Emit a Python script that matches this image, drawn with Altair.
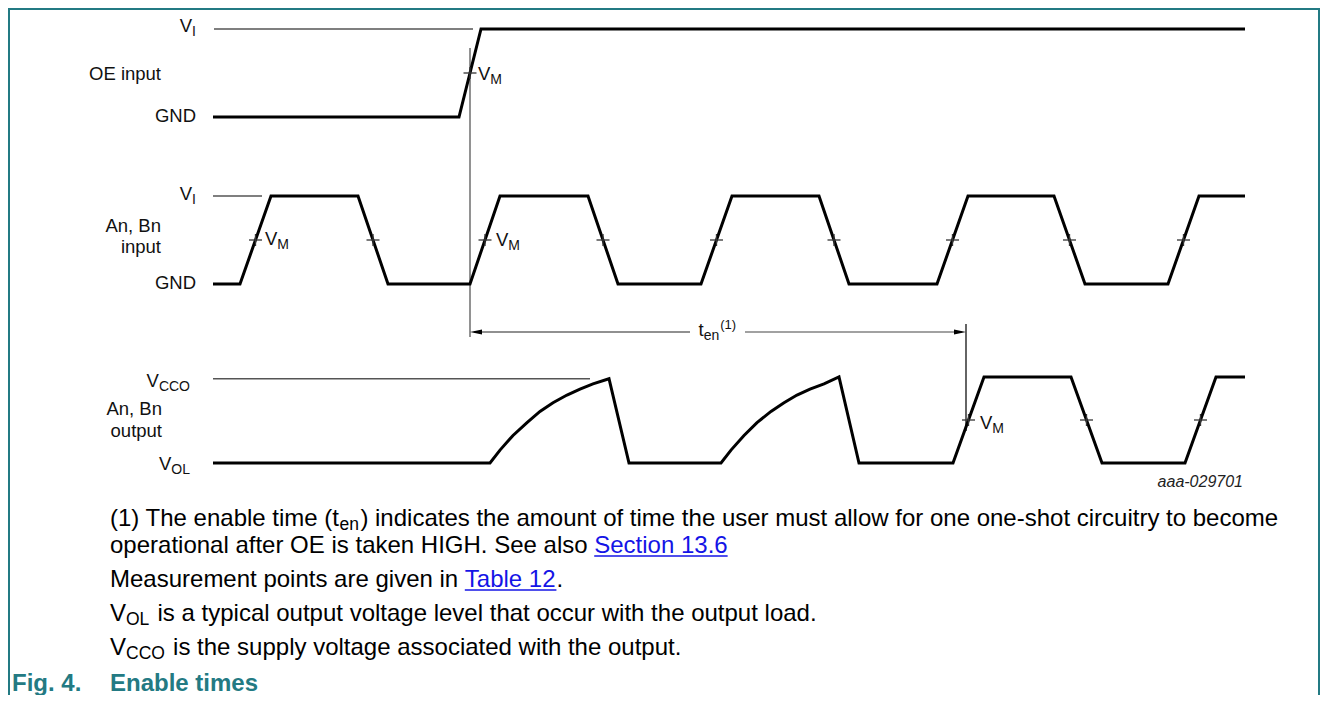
import altair as alt
import pandas as pd

# ---------------- data (figure units: time to the right, level rows downward) -------------
row_names = ["oe", "inp", "out"]
row_low = [117, 284, 463]    # y of LOW level (GND / V_OL)
row_high = [29, 196, 377]    # y of HIGH level (V_I / V_CCO)

oe_t = [213, 459, 481, 1245]
oe_lv = [0, 0, 1, 1]

in_t = [213, 240, 271, 358, 388, 470, 500, 588, 618, 701, 732, 819, 849,
        937, 968, 1054, 1085, 1168, 1199, 1245]
in_lv = [0, 0, 1, 1, 0, 0, 1, 1, 0, 0, 1, 1, 0, 0, 1, 1, 0, 0, 1, 1]

out_t = [213, 490, 500, 513, 527, 540, 553, 567, 580, 593, 609,
         629, 721, 731, 744, 757, 771, 784, 797, 810, 824, 839,
         859, 953, 984, 1071, 1102, 1185, 1216, 1245]
out_lv = [0, 0, 0.15, 0.32, 0.47, 0.60, 0.70, 0.79, 0.86, 0.92, 0.98,
          0, 0, 0.15, 0.32, 0.47, 0.60, 0.70, 0.79, 0.86, 0.92, 1.0,
          0, 0, 1, 1, 0, 0, 1, 1]

# threshold reference lines
ref_row = ["oe", "inp", "out"]
ref_t0 = [214, 213, 213]
ref_t1 = [473, 262, 590]
ref_lv = [1, 1, 0.98]

# output edges that carry a V_M mark start at this time
out_vm_from = 950

# t_en measurement
ten_start = 470
ten_end = 966
ten_arrow_y = 332
ten_gap = [690, 745]
ten_start_span = [48, 337]
ten_end_span = [324, 431]

# left-hand level labels
lvl_main = ["V", "GND", "V", "GND", "V", "V"]
lvl_sub = ["I", "", "I", "", "CCO", "OL"]
lvl_right = [196, 196, 196, 196, 190, 190]
lvl_base = [32, 122, 200, 289, 387, 470]

# signal names
sig_text = ["OE input", "An, Bn", "input", "An, Bn", "output"]
sig_right = [161, 161, 161, 162, 162]
sig_base = [80, 232, 253, 415, 437]

# V_M labels
vm_x = [478, 265, 496, 980]
vm_base = [80, 245, 246, 429]

# notes
note_lines = [
    [("(1) The enable time (t", "n"), ("en", "ns"),
     (") indicates the amount of time the user must allow for one one-shot circuitry to become", "n")],
    [("operational after OE is taken HIGH. See also ", "n"), ("Section 13.6", "lk")],
    [("Measurement points are given in ", "n"), ("Table 12", "lk"), (".", "n")],
    [("V", "n"), ("OL", "ns"), (" is a typical output voltage level that occur with the output load.", "n")],
    [("V", "n"), ("CCO", "ns"), (" is the supply voltage associated with the output.", "n")],
]
note_base = [526, 553, 587, 621, 655]
caption = [("Fig. 4.", 12), ("Enable times", 110)]
caption_base = 691
code_text = "aaa-029701"

# ---------------- helpers ----------------
FONT = "Liberation Sans"
TEAL = "#237a83"
BLUE = "#1414e6"

W = dict(zip(" !(),-.0123456789", [278, 278, 333, 333, 278, 333, 278] + [556] * 10))
W.update(zip("ABCDEFGHIJKLMNOPQRSTUVWXYZ",
             [667, 667, 722, 722, 667, 611, 778, 722, 278, 500, 667, 556, 833, 722, 778, 667,
              778, 722, 667, 611, 722, 667, 944, 667, 667, 611]))
W.update(zip("abcdefghijklmnopqrstuvwxyz",
             [556, 556, 500, 556, 556, 278, 556, 556, 222, 222, 500, 222, 833, 556, 556, 556,
              556, 333, 500, 278, 556, 500, 722, 500, 500, 500]))
KERN = {"Ta": -74, "Te": -74, "To": -74, "Tr": -37}


def tw(s, fs):
    u = sum(W.get(c, 556) for c in s)
    u += sum(KERN.get(s[i:i + 2], 0) for i in range(len(s) - 1))
    return u * fs / 1000.0


STY = {
    "d": dict(fs=18.5, dy=0, col="#111111"),
    "ds": dict(fs=14, dy=4, col="#111111", pad=1.0),
    "dsup": dict(fs=13, dy=-7, col="#111111"),
    "n": dict(fs=24, dy=0, col="#000000"),
    "ns": dict(fs=17.5, dy=4, col="#000000", pad=1.5),
    "lk": dict(fs=24, dy=0, col=BLUE, ul=True),
}

text_rows, ul_rows = [], []


def rich(pieces, x0, base, right=False):
    widths = [tw(t, STY[s]["fs"]) + STY[s].get("pad", 0) for t, s in pieces]
    if right:
        x0 -= sum(widths) - STY[pieces[-1][1]].get("pad", 0)
    x = x0
    for (t, s), w in zip(pieces, widths):
        st = STY[s]
        lead = len(t) - len(t.lstrip(" "))
        xs_ = x + tw(" " * lead, st["fs"])
        if t.strip(" "):
            text_rows.append(dict(x=xs_, y=base + st["dy"], text=t.strip(" "), fs=st["fs"], col=st["col"]))
        if st.get("ul"):
            ul_rows.append(dict(x=xs_, x2=xs_ + tw(t.strip(" "), st["fs"]), y=base + 3))
        x += w


rows = {n: (lo, hi) for n, lo, hi in zip(row_names, row_low, row_high)}


def yof(r, lv):
    lo, hi = rows[r]
    return lo + lv * (hi - lo)


# waveforms
wave = []
for name, ts, lvs in [("oe", oe_t, oe_lv), ("inp", in_t, in_lv), ("out", out_t, out_lv)]:
    for i, (t, lv) in enumerate(zip(ts, lvs)):
        wave.append(dict(sig=name, t=t, y=yof(name, lv), o=i))
wave_df = pd.DataFrame(wave)

# V_M tick marks at the middle of the edges
ticks = []
for name, ts, lvs in [("oe", oe_t, oe_lv), ("inp", in_t, in_lv), ("out", out_t, out_lv)]:
    for i in range(len(ts) - 1):
        if lvs[i] in (0, 1) and lvs[i + 1] in (0, 1) and lvs[i] != lvs[i + 1]:
            if name == "out" and ts[i] < out_vm_from:
                continue
            tm = (ts[i] + ts[i + 1]) / 2
            ym = yof(name, 0.5)
            ticks.append(dict(x=tm - 6.5, x2=tm + 6.5, y=ym, y2=ym))
            ticks.append(dict(x=tm, x2=tm, y=ym - 6, y2=ym + 6))
ticks_df = pd.DataFrame(ticks)

# thin lines: references, markers, arrow
thin = []
for r, a, b, lv in zip(ref_row, ref_t0, ref_t1, ref_lv):
    thin.append(dict(x=a, x2=b, y=yof(r, lv), y2=yof(r, lv), col="#555555", sw=1.5))
thin.append(dict(x=ten_start, x2=ten_start, y=ten_start_span[0], y2=ten_start_span[1], col="#777777", sw=1.6))
thin.append(dict(x=ten_end, x2=ten_end, y=ten_end_span[0], y2=ten_end_span[1], col="#111111", sw=1.3))
thin.append(dict(x=ten_start + 4, x2=ten_gap[0], y=ten_arrow_y, y2=ten_arrow_y, col="#222222", sw=1.2))
thin.append(dict(x=ten_gap[1], x2=ten_end - 4, y=ten_arrow_y, y2=ten_arrow_y, col="#444444", sw=1.2))
thin_df = pd.DataFrame(thin)

# page geometry (figure units == page pixels)
X0, X1, Y0, Y1 = 8, 1320, 8, 695

# frame
frame_df = pd.DataFrame([
    dict(x=X0 + 1, x2=X0 + 1, y=Y0, y2=Y1),
    dict(x=X1 - 1, x2=X1 - 1, y=Y0, y2=Y1),
    dict(x=X0, x2=X1, y=Y0 + 1, y2=Y0 + 1),
])

# diagram texts
for m, s, r, b in zip(lvl_main, lvl_sub, lvl_right, lvl_base):
    p = [(m, "d")] + ([(s, "ds")] if s else [])
    rich(p, r, b, right=True)
for t, r, b in zip(sig_text, sig_right, sig_base):
    rich([(t, "d")], r, b, right=True)
for x, b in zip(vm_x, vm_base):
    rich([("V", "d"), ("M", "ds")], x, b)
rich([("t", "d"), ("en", "ds"), ("(1)", "dsup")], (ten_gap[0] + ten_gap[1]) / 2 - 19, ten_arrow_y + 4)
for line, b in zip(note_lines, note_base):
    rich(line, 110, b)
text_df = pd.DataFrame(text_rows)
ul_df = pd.DataFrame(ul_rows)
cap_df = pd.DataFrame([dict(x=x, y=caption_base, text=t) for t, x in caption])
code_df = pd.DataFrame([dict(x=1243, y=487, text=code_text)])
arrow_l = pd.DataFrame([dict(x=ten_start + 6, y=ten_arrow_y)])
arrow_r = pd.DataFrame([dict(x=ten_end - 6, y=ten_arrow_y)])

# ---------------- chart ----------------
xs = alt.Scale(domain=[X0, X1], nice=False, zero=False)
ys = alt.Scale(domain=[Y0, Y1], nice=False, zero=False, reverse=True)


def X(f):
    return alt.X(f, type="quantitative", scale=xs, axis=None)


def Y(f):
    return alt.Y(f, type="quantitative", scale=ys, axis=None)


frame = alt.Chart(frame_df).mark_rule(color=TEAL, strokeWidth=2).encode(
    x=X("x"), x2="x2", y=Y("y"), y2="y2")

thin_l = alt.Chart(thin_df).mark_rule().encode(
    x=X("x"), x2="x2", y=Y("y"), y2="y2",
    color=alt.Color("col:N", scale=None), strokeWidth=alt.StrokeWidth("sw:Q", scale=None))

waves = alt.Chart(wave_df).mark_line(color="black", strokeWidth=3, strokeJoin="miter",
                                     strokeCap="butt").encode(
    x=X("t"), y=Y("y"), detail="sig:N", order="o:Q")

tick_l = alt.Chart(ticks_df).mark_rule(color="#333333", strokeWidth=1.3).encode(
    x=X("x"), x2="x2", y=Y("y"), y2="y2")

ah_l = alt.Chart(arrow_l).mark_point(shape="M-1,0L1,-0.42L1,0.42Z", size=144, filled=True,
                                     color="black", opacity=1, strokeWidth=0).encode(x=X("x"), y=Y("y"))
ah_r = alt.Chart(arrow_r).mark_point(shape="M1,0L-1,-0.42L-1,0.42Z", size=144, filled=True,
                                     color="black", opacity=1, strokeWidth=0).encode(x=X("x"), y=Y("y"))

texts = alt.Chart(text_df).mark_text(align="left", baseline="alphabetic", font=FONT).encode(
    x=X("x"), y=Y("y"), text="text:N",
    size=alt.Size("fs:Q", scale=None), color=alt.Color("col:N", scale=None))

underl = alt.Chart(ul_df).mark_rule(color=BLUE, strokeWidth=1.4).encode(
    x=X("x"), x2="x2", y=Y("y"))

cap = alt.Chart(cap_df).mark_text(align="left", baseline="alphabetic", font=FONT, fontSize=24,
                                  fontWeight="bold", color=TEAL).encode(
    x=X("x"), y=Y("y"), text="text:N")

code = alt.Chart(code_df).mark_text(align="right", baseline="alphabetic", font=FONT, fontSize=16,
                                    fontStyle="italic", color="#222222").encode(
    x=X("x"), y=Y("y"), text="text:N")

chart = alt.layer(frame, thin_l, waves, tick_l, ah_l, ah_r, texts, underl, cap, code).properties(
    width=X1 - X0, height=Y1 - Y0, padding=0,
    autosize=alt.AutoSizeParams(type="none"),
    background="white",
).configure_view(stroke=None)

chart.save("out.html", embed_options={"renderer": "svg", "actions": False})
